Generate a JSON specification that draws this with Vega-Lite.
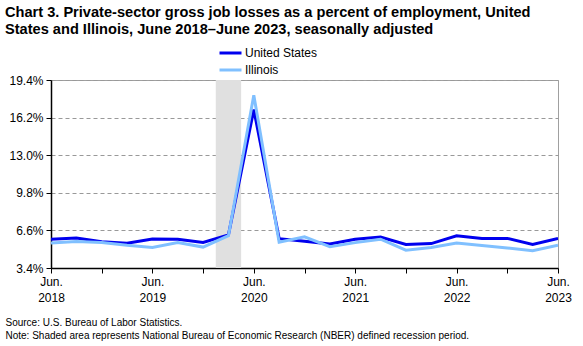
{
  "$schema": "https://vega.github.io/schema/vega-lite/v6.json",
  "autosize": "none",
  "width": 507,
  "height": 188,
  "padding": {"left": 51, "top": 80, "right": 25, "bottom": 78},
  "background": "white",
  "config": {
    "font": "Liberation Sans",
    "view": {"stroke": "#a0a0a0", "strokeWidth": 1}
  },
  "title": {
    "text": ["Chart 3. Private-sector gross job losses as a percent of employment, United", "States and Illinois, June 2018–June 2023, seasonally adjusted"],
    "anchor": "start",
    "frame": "group",
    "dx": -46,
    "offset": 9,
    "fontSize": 14.6,
    "fontWeight": "bold",
    "lineHeight": 17,
    "color": "black",
    "font": "Liberation Sans"
  },
  "datasets": {
    "series": [
      {"idx": 0, "series": "United States", "value": 5.85},
      {"idx": 1, "series": "United States", "value": 5.96},
      {"idx": 2, "series": "United States", "value": 5.63},
      {"idx": 3, "series": "United States", "value": 5.51},
      {"idx": 4, "series": "United States", "value": 5.87},
      {"idx": 5, "series": "United States", "value": 5.84},
      {"idx": 6, "series": "United States", "value": 5.58},
      {"idx": 7, "series": "United States", "value": 6.22},
      {"idx": 8, "series": "United States", "value": 16.88},
      {"idx": 9, "series": "United States", "value": 5.9},
      {"idx": 10, "series": "United States", "value": 5.68},
      {"idx": 11, "series": "United States", "value": 5.45},
      {"idx": 12, "series": "United States", "value": 5.85},
      {"idx": 13, "series": "United States", "value": 6.04},
      {"idx": 14, "series": "United States", "value": 5.41},
      {"idx": 15, "series": "United States", "value": 5.48},
      {"idx": 16, "series": "United States", "value": 6.14},
      {"idx": 17, "series": "United States", "value": 5.92},
      {"idx": 18, "series": "United States", "value": 5.92},
      {"idx": 19, "series": "United States", "value": 5.41},
      {"idx": 20, "series": "United States", "value": 5.92},
      {"idx": 0, "series": "Illinois", "value": 5.52},
      {"idx": 1, "series": "Illinois", "value": 5.66},
      {"idx": 2, "series": "Illinois", "value": 5.57},
      {"idx": 3, "series": "Illinois", "value": 5.33},
      {"idx": 4, "series": "Illinois", "value": 5.15},
      {"idx": 5, "series": "Illinois", "value": 5.57},
      {"idx": 6, "series": "Illinois", "value": 5.18},
      {"idx": 7, "series": "Illinois", "value": 6.15},
      {"idx": 8, "series": "Illinois", "value": 18.1},
      {"idx": 9, "series": "Illinois", "value": 5.6},
      {"idx": 10, "series": "Illinois", "value": 6.05},
      {"idx": 11, "series": "Illinois", "value": 5.22},
      {"idx": 12, "series": "Illinois", "value": 5.56},
      {"idx": 13, "series": "Illinois", "value": 5.85},
      {"idx": 14, "series": "Illinois", "value": 4.92},
      {"idx": 15, "series": "Illinois", "value": 5.14},
      {"idx": 16, "series": "Illinois", "value": 5.52},
      {"idx": 17, "series": "Illinois", "value": 5.31},
      {"idx": 18, "series": "Illinois", "value": 5.11},
      {"idx": 19, "series": "Illinois", "value": 4.87},
      {"idx": 20, "series": "Illinois", "value": 5.34}
    ],
    "recession": [{"start": 6.5, "end": 7.5}]
  },
  "layer": [
    {
      "data": {"name": "recession"},
      "mark": {"type": "rect", "color": "#e0e0e0"},
      "encoding": {
        "x": {"field": "start", "type": "quantitative", "scale": {"domain": [0, 20], "nice": false, "zero": false}},
        "x2": {"field": "end"}
      }
    },
    {
      "data": {"name": "series"},
      "mark": {"type": "line", "strokeWidth": 3, "strokeJoin": "miter", "clip": true},
      "encoding": {
        "x": {
          "field": "idx",
          "type": "quantitative",
          "scale": {"domain": [0, 20], "nice": false, "zero": false},
          "axis": {
            "values": [0,1,2,3,4,5,6,7,8,9,10,11,12,13,14,15,16,17,18,19,20],
            "labelExpr": "datum.value % 4 == 0 ? ['Jun.', '' + (2018 + datum.value / 4)] : ''",
            "grid": false,
            "domainColor": "black",
            "domainWidth": 1.5,
            "tickColor": "black",
            "tickSize": 5,
            "labelFontSize": 12,
            "labelColor": "black",
            "labelLineHeight": 16,
            "labelPadding": 3,
            "labelFlush": false,
            "labelOverlap": false,
            "title": ["Source: U.S. Bureau of Labor Statistics.", "Note: Shaded area represents National Bureau of Economic Research (NBER) defined recession period."],
            "titleFontSize": 10,
            "titleFontWeight": "normal",
            "titleColor": "black",
            "titleAnchor": "start",
            "titleAlign": "left",
            "titleBaseline": "alphabetic",
            "titleX": -46,
            "titleY": 57,
            "titleLineHeight": 13
          }
        },
        "y": {
          "field": "value",
          "type": "quantitative",
          "scale": {"domain": [3.4, 19.4], "nice": false, "zero": false},
          "axis": {
            "values": [3.4, 6.6, 9.8, 13.0, 16.2, 19.4],
            "labelExpr": "format(datum.value, '.1f') + '%'",
            "title": null,
            "grid": true,
            "gridColor": "#999999",
            "gridDash": [4, 3],
            "gridWidth": 1,
            "domainColor": "black",
            "domainWidth": 1.5,
            "tickColor": "black",
            "tickSize": 5,
            "labelFontSize": 12,
            "labelColor": "black",
            "labelPadding": 3
          }
        },
        "color": {
          "field": "series",
          "type": "nominal",
          "sort": ["United States", "Illinois"],
          "scale": {"domain": ["United States", "Illinois"], "range": ["#0000ee", "#80c0ff"]},
          "legend": {
            "title": null,
            "orient": "none",
            "legendX": 167,
            "legendY": -34,
            "symbolType": "stroke",
            "symbolSize": 484,
            "symbolStrokeWidth": 3,
            "clipHeight": 14,
            "labelFontSize": 12,
            "labelColor": "black",
            "labelOffset": 2,
            "rowPadding": 3
          }
        },
        "order": {"field": "idx", "type": "quantitative"},
        "zIndex": {"value": 1}
      }
    }
  ]
}
